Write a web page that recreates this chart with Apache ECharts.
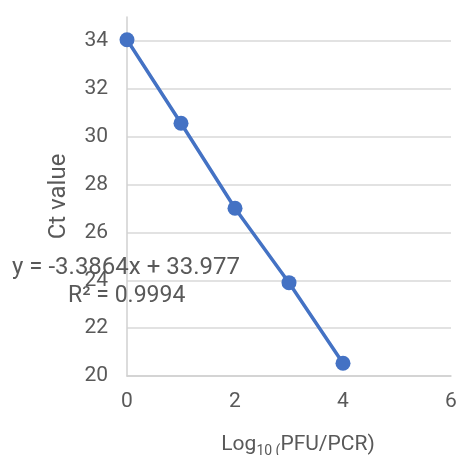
<!DOCTYPE html>
<html><head><meta charset="utf-8">
<script src="https://cdn.jsdelivr.net/npm/echarts@6/dist/echarts.min.js"></script>
<style>html,body{margin:0;padding:0;background:#fff}#c{width:460px;height:455px}</style>
</head><body><div id="c"></div>
<script>
const xValues = [0, 1, 2, 3, 4];
const ctValues = [34.05, 30.56, 27.01, 23.9, 20.53];
const xTicks = [0, 2, 4, 6];
const yTicks = [20, 22, 24, 26, 28, 30, 32, 34];
const equationText = 'y = -3.3864x + 33.977';
const r2Text = 'R² = 0.9994';

const FONT = 'Roboto, "Liberation Sans", sans-serif';
const GRAY = '#595959';
const chart = echarts.init(document.getElementById('c'));
chart.setOption({
  animation: false,
  grid: {left: 127, right: 9, top: 17, bottom: 79, outerBoundsMode: 'none', containLabel: false},
  xAxis: {
    type: 'value', min: 0, max: 6, interval: 2,
    name: 'Log{s|10 (}PFU/PCR)', nameLocation: 'middle', nameGap: 56,
    nameTextStyle: {color: GRAY, fontSize: 21, fontFamily: FONT, padding: [0, 0, 0, 18],
      rich: {s: {fontSize: 14, color: GRAY, fontFamily: FONT, padding: [12, 0, 0, 0]}}},
    axisLine: {lineStyle: {color: '#d0d0d0', width: 1.5}},
    axisTick: {show: false},
    splitLine: {show: false},
    axisLabel: {color: GRAY, fontSize: 21, fontFamily: FONT, margin: 15,
      formatter: v => xTicks.includes(v) ? String(v) : ''}
  },
  yAxis: {
    type: 'value', min: 20, max: 35, interval: 2,
    name: 'Ct value', nameLocation: 'middle', nameGap: 56,
    nameTextStyle: {color: GRAY, fontSize: 24, fontFamily: FONT},
    axisLine: {show: true, lineStyle: {color: '#d0d0d0', width: 1.5}},
    axisTick: {show: false},
    splitLine: {show: true, lineStyle: {color: ['#d9d9d9','#d9d9d9','#d9d9d9','#d9d9d9','#d9d9d9','#d9d9d9','#d9d9d9','#d9d9d9','transparent'], width: 1.5}},
    axisLabel: {color: GRAY, fontSize: 21, fontFamily: FONT, margin: 19, showMaxLabel: false,
      formatter: v => yTicks.includes(v) ? String(v) : ''}
  },
  series: [{
    type: 'line',
    data: xValues.map((x, i) => [x, ctValues[i]]),
    symbol: 'circle', symbolSize: 15,
    lineStyle: {color: '#4472C4', width: 3.5},
    itemStyle: {color: '#4472C4'},
    z: 3
  }],
  graphic: [
    {type: 'text', x: 12, y: 268, z: 10, style: {text: equationText, fill: GRAY, font: '24px ' + FONT, verticalAlign: 'middle'}},
    {type: 'text', x: 68, y: 296, z: 10, style: {text: r2Text, fill: GRAY, font: '23px ' + FONT, verticalAlign: 'middle'}}
  ]
});
</script></body></html>
